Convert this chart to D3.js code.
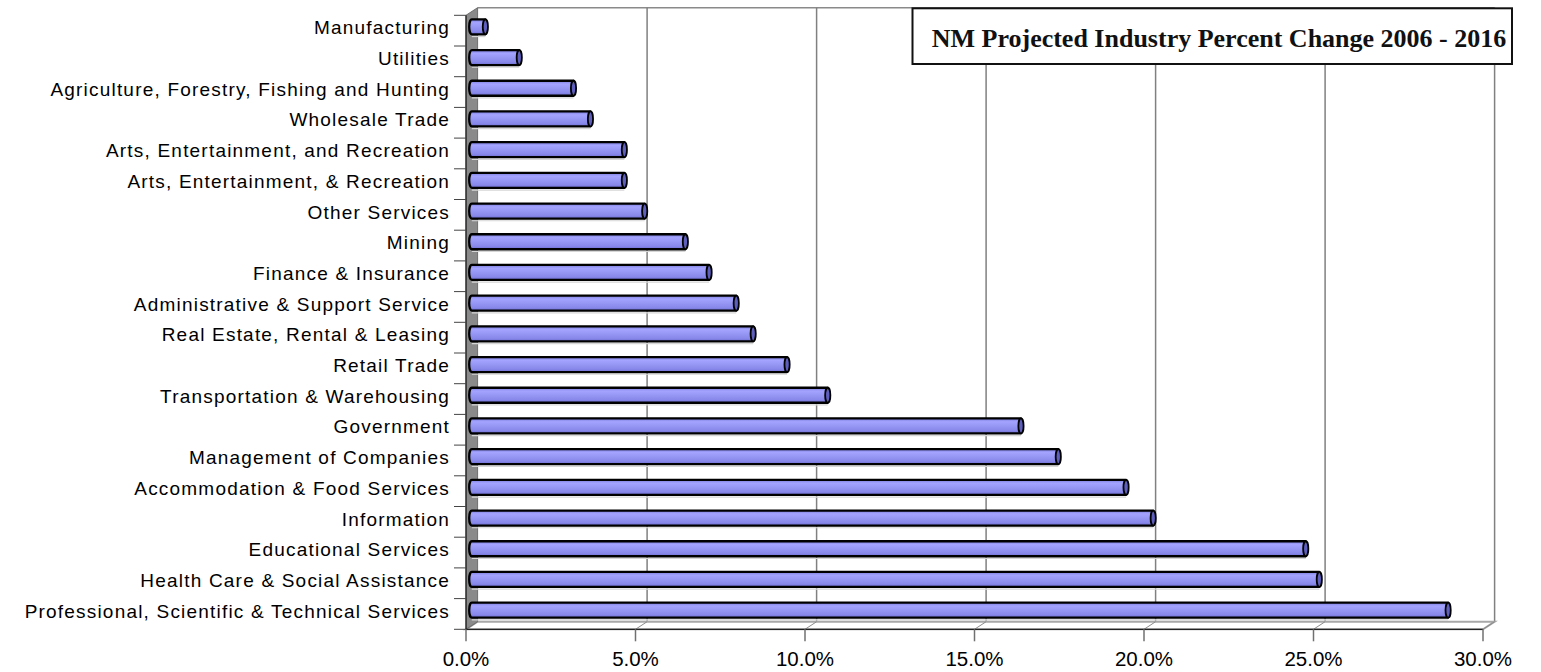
<!DOCTYPE html>
<html>
<head>
<meta charset="utf-8">
<script src="https://cdn.jsdelivr.net/npm/d3@7/dist/d3.min.js"></script>
<style>
  html, body { margin: 0; padding: 0; background: #fff; }
  svg { display: block; }
</style>
</head>
<body>
<svg id="chart" width="1541" height="672"></svg>
<script>
// ---------- data ----------
const categories = [
  "Manufacturing",
  "Utilities",
  "Agriculture, Forestry, Fishing and Hunting",
  "Wholesale Trade",
  "Arts, Entertainment, and Recreation",
  "Arts, Entertainment, & Recreation",
  "Other Services",
  "Mining",
  "Finance & Insurance",
  "Administrative & Support Service",
  "Real Estate, Rental & Leasing",
  "Retail Trade",
  "Transportation & Warehousing",
  "Government",
  "Management of Companies",
  "Accommodation & Food Services",
  "Information",
  "Educational Services",
  "Health Care & Social Assistance",
  "Professional, Scientific & Technical Services"
];
const values = [0.4, 1.4, 3.0, 3.5, 4.5, 4.5, 5.1, 6.3, 7.0, 7.8, 8.3, 9.3, 10.5, 16.2, 17.3, 19.3, 20.1, 24.6, 25.0, 28.8];
const xTickValues = [0, 5, 10, 15, 20, 25, 30];
const xTickLabels = ["0.0%", "5.0%", "10.0%", "15.0%", "20.0%", "25.0%", "30.0%"];
const title = "NM Projected Industry Percent Change 2006 - 2016";

// ---------- layout ----------
const svg = d3.select("#chart");
const frontLeft = 466, frontRight = 1483;
const frontTop = 15.3, frontBottom = 629.3;
const DX = 11.6, DY = -7.6;           // 3D depth offset (front -> back)

const x = d3.scaleLinear().domain([0, 30]).range([frontLeft, frontRight]);
const y = d3.scaleBand().domain(categories).range([frontTop, frontBottom]).padding(0);

const defs = svg.append("defs");
const grad = defs.append("linearGradient").attr("id", "barGrad")
  .attr("x1", 0).attr("y1", 0).attr("x2", 0).attr("y2", 1);
[[0, "#7a7adc"], [0.22, "#a4a4ff"], [0.5, "#9696f4"], [0.8, "#8888ea"], [1, "#6c6cce"]]
  .forEach(([o, c]) => grad.append("stop").attr("offset", o).attr("stop-color", c));

// ---------- walls ----------
const g = svg.append("g");

// back wall top edge
g.append("line")
  .attr("x1", x(0) + DX).attr("x2", x(30) + DX)
  .attr("y1", frontTop + DY).attr("y2", frontTop + DY)
  .attr("stroke", "#8a8a8a").attr("stroke-width", 1.5);

// gridlines on back wall
xTickValues.forEach(v => {
  if (v > 0) {
    g.append("line")
      .attr("x1", x(v) + DX).attr("x2", x(v) + DX)
      .attr("y1", frontTop + DY).attr("y2", frontBottom + DY)
      .attr("stroke", "#808080").attr("stroke-width", 1.5);
  }
});

// floor
g.append("path")
  .attr("d", `M${x(0)},${frontBottom} L${x(0) + DX},${frontBottom + DY} L${x(30) + DX},${frontBottom + DY} L${x(30)},${frontBottom} Z`)
  .attr("fill", "#ffffff").attr("stroke", "#a8a8a8").attr("stroke-width", 2);
xTickValues.forEach(v => {
  g.append("line")
    .attr("x1", x(v)).attr("y1", frontBottom)
    .attr("x2", x(v) + DX).attr("y2", frontBottom + DY)
    .attr("stroke", "#8a8a8a").attr("stroke-width", 1);
});

// left side wall
g.append("path")
  .attr("d", `M${x(0)},${frontTop} L${x(0) + DX},${frontTop + DY} L${x(0) + DX},${frontBottom + DY} L${x(0)},${frontBottom} Z`)
  .attr("fill", "#8a8a8a").attr("stroke", "#6e6e6e").attr("stroke-width", 1);

// ---------- bars ----------
const barH = 15, rx = 2.6, ry = barH / 2;
const bars = g.append("g");
categories.forEach((c, i) => {
  const cy = y(c) + y.bandwidth() / 2 + DY / 2;
  const x0 = x(0) + DX / 2;
  const x1 = x(values[i]) + DX / 2;
  const top = cy - ry, bot = cy + ry;
  bars.append("line")
    .attr("x1", x0).attr("x2", x1).attr("y1", bot + 2.2).attr("y2", bot + 2.2)
    .attr("stroke", "#d6d6d6").attr("stroke-width", 1.2);
  bars.append("path")
    .attr("d", `M${x0},${top} L${x1},${top} L${x1},${bot} L${x0},${bot} A${rx},${ry} 0 0 1 ${x0},${top} Z`)
    .attr("fill", "url(#barGrad)")
    .attr("stroke", "#000").attr("stroke-width", 2.3).attr("stroke-linejoin", "round");
  bars.append("ellipse")
    .attr("cx", x1).attr("cy", cy).attr("rx", rx).attr("ry", ry)
    .attr("fill", "#5e5ebe").attr("stroke", "#000").attr("stroke-width", 1.8);
});

// ---------- axes ----------
g.append("line")
  .attr("x1", frontLeft).attr("x2", frontLeft)
  .attr("y1", frontTop).attr("y2", frontBottom)
  .attr("stroke", "#000").attr("stroke-width", 1);
const yTicks = y.domain().map(c => y(c)).concat([frontBottom]);
yTicks.forEach(t => {
  g.append("line")
    .attr("x1", frontLeft - 12).attr("x2", frontLeft)
    .attr("y1", t).attr("y2", t)
    .attr("stroke", "#444").attr("stroke-width", 1);
});
g.append("g").selectAll("text").data(categories).join("text")
  .attr("x", 450)
  .attr("y", d => y(d) + y.bandwidth() / 2 + DY / 2 + 1)
  .attr("text-anchor", "end")
  .attr("dominant-baseline", "central")
  .attr("font-family", "'Liberation Sans', Arial, sans-serif")
  .attr("font-size", 19)
  .attr("letter-spacing", 1.2)
  .attr("fill", "#000")
  .text(d => d);

g.append("line")
  .attr("x1", frontLeft).attr("x2", frontRight)
  .attr("y1", frontBottom).attr("y2", frontBottom)
  .attr("stroke", "#000").attr("stroke-width", 1);
xTickValues.forEach((v, i) => {
  g.append("line")
    .attr("x1", x(v)).attr("x2", x(v))
    .attr("y1", frontBottom).attr("y2", frontBottom + 12)
    .attr("stroke", "#707070").attr("stroke-width", 1.5);
  g.append("text")
    .attr("x", x(v)).attr("y", 666)
    .attr("text-anchor", "middle")
    .attr("font-family", "'Liberation Sans', Arial, sans-serif")
    .attr("font-size", 20.5)
    .attr("fill", "#000")
    .text(xTickLabels[i]);
});

// ---------- title box ----------
const tb = svg.append("g");
tb.append("rect")
  .attr("x", 912.5).attr("y", 8.3).attr("width", 599.5).attr("height", 55.7)
  .attr("fill", "#fff").attr("stroke", "#111").attr("stroke-width", 2);
tb.append("text")
  .attr("x", 1219).attr("y", 46.5)
  .attr("text-anchor", "middle")
  .attr("font-family", "'Liberation Serif', 'Times New Roman', serif")
  .attr("font-weight", "bold")
  .attr("font-size", 26)
  .attr("fill", "#111")
  .text(title);
</script>
</body>
</html>
